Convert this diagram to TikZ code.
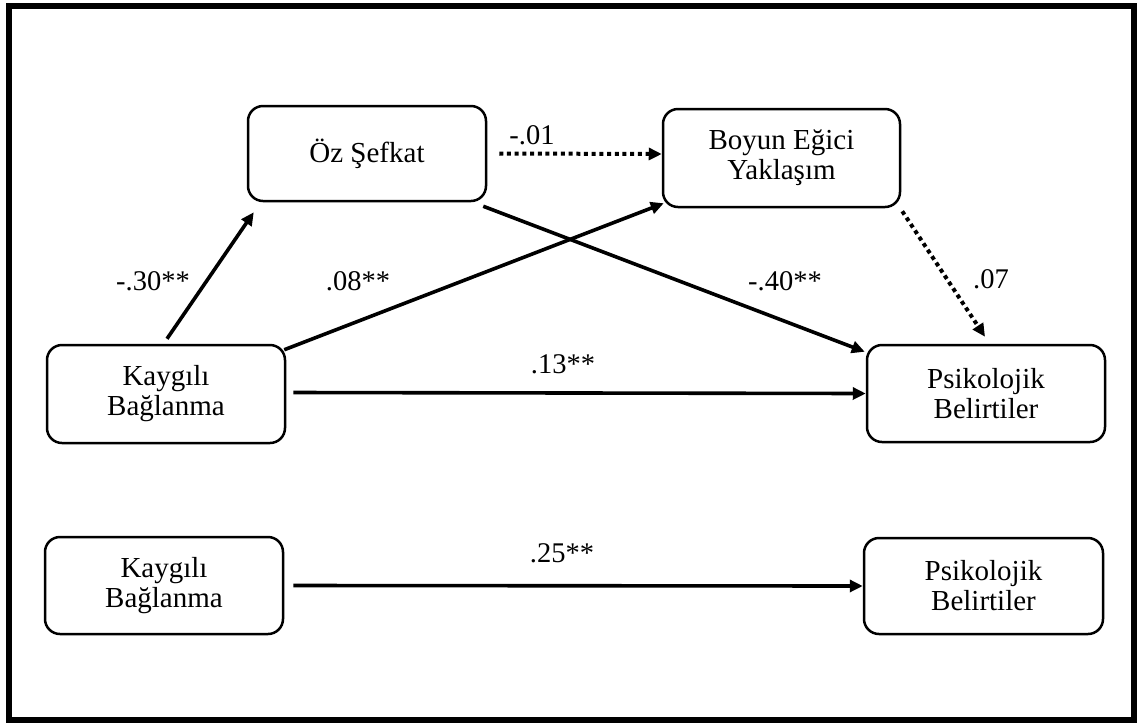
\documentclass[tikz,border=0pt]{standalone}
\usepackage{fontspec}
\setmainfont{Liberation Serif}
\usetikzlibrary{arrows.meta,calc}
\begin{document}
\begin{tikzpicture}[x=1pt,y=-1pt,
  box/.style={draw,line width=2.5pt,rounded corners=15pt,minimum width=238pt,minimum height=97pt,align=center,font=\fontsize{29}{30}\selectfont,inner sep=0pt},
  conn/.style={line width=3.6pt,-{Triangle[length=13pt,width=12pt]}},
  dotconn/.style={line width=4pt,dash pattern=on 4pt off 3.7pt,-{Triangle[length=13pt,width=12pt]}},
  lab/.style={font=\fontsize{28.5}{30}\selectfont,inner sep=0pt}]
\useasboundingbox (0,0) rectangle (1138,724);
\draw[line width=6pt] (9,6) rectangle (1134,720);

\node[box,minimum height=95pt] (oz) at (367,153.5) {Öz Şefkat};
\node[box,minimum height=98pt,minimum width=237pt] (boyun) at (781.5,158) {Boyun Eğici\\Yaklaşım};
\node[box,minimum height=98pt] (kay1) at (166,394) {Kaygılı\\Bağlanma};
\node[box] (psi1) at (986,393.5) {Psikolojik\\Belirtiler};
\node[box] (kay2) at (164,585.5) {Kaygılı\\Bağlanma};
\node[box,minimum width=239pt,minimum height=96pt] (psi2) at (983.5,586) {Psikolojik\\Belirtiler};

\draw[conn] ($(kay1.north)+(1,-5)$) -- ($(oz.south west)+(7,10)$);
\draw[conn] ($(kay1.north east)+(-2,6)$) -- ($(boyun.south west)+(2,-5)$);
\draw[conn] ($(oz.south east)+(-4,4)$) -- ($(psi1.north west)+(-1,8)$);
\draw[conn] ($(kay1.east)+(7,-1.5)$) -- (psi1.west);
\draw[dotconn] ($(oz.east)+(12,0)$) -- ($(boyun.west)+(0,-4)$);
\draw[dotconn] ($(boyun.south east)+(1,3)$) -- ($(psi1.north)+(-1,-7)$);
\draw[conn] ($(kay2.east)+(9,0)$) -- (psi2.west);

\node[lab] (l1) at (153,281) {-.30**};
\node[lab] (l2) at (358,281) {.08**};
\node[lab] (l3) at (563,364) {.13**};
\node[lab] (l4) at (785,281) {-.40**};
\node[lab] (l5) at (991,279) {.07};
\node[lab] (l6) at (532,135) {-.01};
\node[lab] (l7) at (562,553) {.25**};
\end{tikzpicture}
\end{document}
